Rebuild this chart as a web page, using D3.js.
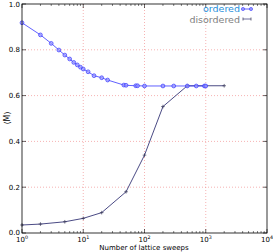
<!DOCTYPE html>
<html><head><meta charset="utf-8">
<script src="https://cdn.jsdelivr.net/npm/d3@7/dist/d3.min.js"></script>
<style>body{margin:0;background:#fff}svg{display:block}text{font-family:"DejaVu Sans",sans-serif}</style>
</head><body><svg id="c" width="273" height="252"></svg>
<script>
const orderedX = [1,2,3,4,5,6,7,8,9,10,12,15,20,25,46,50,72,77,100,200,300,500,700,950,1000];
const orderedY = [0.918,0.865,0.828,0.799,0.777,0.760,0.745,0.734,0.724,0.716,0.704,0.687,0.678,0.668,0.646,0.645,0.643,0.643,0.642,0.642,0.642,0.642,0.642,0.642,0.642];
const disorderedX = [1,2,5,10,20,50,100,200,500,2000];
const disorderedY = [0.035,0.039,0.049,0.064,0.089,0.180,0.340,0.552,0.643,0.643];
const xTicks = [1,10,100,1000,10000];
const xTickExp = ["0","1","2","3","4"];
const yTicks = [0,0.2,0.4,0.6,0.8,1.0];
const yTickLabels = ["0.0","0.2","0.4","0.6","0.8","1.0"];
const legendLabels = ["ordered","disordered"];

const svg = d3.select("#c");
const L=22,R=267,T=4,B=233;
const x = d3.scaleLog().domain([1,10000]).range([L,R]);
const y = d3.scaleLinear().domain([0,1]).range([B,T]);

// grid
const g = svg.append("g");
xTicks.slice(1,-1).forEach(v=>g.append("line").attr("x1",x(v)).attr("x2",x(v)).attr("y1",T).attr("y2",B)
  .attr("stroke","#f08080").attr("stroke-width",0.6).attr("stroke-dasharray","1,2"));
yTicks.slice(1,-1).forEach(v=>g.append("line").attr("y1",y(v)).attr("y2",y(v)).attr("x1",L).attr("x2",R)
  .attr("stroke","#f08080").attr("stroke-width",0.6).attr("stroke-dasharray","1,2"));

// minor ticks
const minor=[];
for(let d=1;d<10000;d*=10) for(let k=2;k<10;k++) minor.push(d*k);
minor.forEach(v=>{
  svg.append("line").attr("x1",x(v)).attr("x2",x(v)).attr("y1",B).attr("y2",B-2).attr("stroke","#000").attr("stroke-width",0.5);
  svg.append("line").attr("x1",x(v)).attr("x2",x(v)).attr("y1",T).attr("y2",T+2).attr("stroke","#000").attr("stroke-width",0.5);
});
xTicks.forEach((v,i)=>{
  svg.append("line").attr("x1",x(v)).attr("x2",x(v)).attr("y1",B).attr("y2",B-4).attr("stroke","#000").attr("stroke-width",0.6);
  svg.append("line").attr("x1",x(v)).attr("x2",x(v)).attr("y1",T).attr("y2",T+4).attr("stroke","#000").attr("stroke-width",0.6);
  const t=svg.append("text").attr("x",x(v)).attr("y",B+9).attr("text-anchor","middle").attr("font-size",7);
  t.append("tspan").text("10");
  t.append("tspan").attr("dy",-3).attr("font-size",4.8).text(xTickExp[i]);
});
yTicks.forEach((v,i)=>{
  svg.append("line").attr("x1",L).attr("x2",L+4).attr("y1",y(v)).attr("y2",y(v)).attr("stroke","#000").attr("stroke-width",0.6);
  svg.append("line").attr("x1",R).attr("x2",R-4).attr("y1",y(v)).attr("y2",y(v)).attr("stroke","#000").attr("stroke-width",0.6);
  svg.append("text").attr("x",L-2).attr("y",y(v)+(i===0?1.5:2.5)).attr("text-anchor","end").attr("font-size",7).text(yTickLabels[i]);
});

const line = d3.line().x(d=>x(d[0])).y(d=>y(d[1]));
// disordered
const dd = disorderedX.map((v,i)=>[v,disorderedY[i]]);
svg.append("path").attr("d",line(dd)).attr("fill","none").attr("stroke","#4b4b85").attr("stroke-width",1);
dd.forEach(d=>{
  svg.append("line").attr("x1",x(d[0])-1.8).attr("x2",x(d[0])+1.8).attr("y1",y(d[1])).attr("y2",y(d[1])).attr("stroke","#333355").attr("stroke-width",0.7);
  svg.append("line").attr("x1",x(d[0])).attr("x2",x(d[0])).attr("y1",y(d[1])-1.8).attr("y2",y(d[1])+1.8).attr("stroke","#333355").attr("stroke-width",0.7);
});
// ordered
const od = orderedX.map((v,i)=>[v,orderedY[i]]);
svg.append("path").attr("d",line(od)).attr("fill","none").attr("stroke","#3a3aff").attr("stroke-width",1).attr("stroke-opacity",0.8);
svg.selectAll("circle.o").data(od).enter().append("circle").attr("class","o")
  .attr("cx",d=>x(d[0])).attr("cy",d=>y(d[1])).attr("r",1.9)
  .attr("fill","#9a9aff").attr("fill-opacity",0.7).attr("stroke","#3a3aff").attr("stroke-width",0.7);

// frame
svg.append("rect").attr("x",L).attr("y",T).attr("width",R-L).attr("height",B-T).attr("fill","none").attr("stroke","#000").attr("stroke-width",0.8);

// labels
svg.append("text").attr("x",144).attr("y",249.5).attr("text-anchor","middle").attr("font-size",7).text("Number of lattice sweeps");
svg.append("text").attr("transform","translate(10,118) rotate(-90)").attr("text-anchor","middle").attr("font-size",8).text("⟨M⟩");

// legend
svg.append("text").attr("x",240).attr("y",11.5).attr("text-anchor","end").attr("font-size",9.5).attr("fill","#1f8fdc").text(legendLabels[0]);
svg.append("text").attr("x",240).attr("y",22.5).attr("text-anchor","end").attr("font-size",9.5).attr("fill","#808080").text(legendLabels[1]);
svg.append("line").attr("x1",243).attr("x2",251).attr("y1",9).attr("y2",9).attr("stroke","#3a3aff").attr("stroke-width",0.8);
[243,251].forEach(cx=>svg.append("circle").attr("cx",cx).attr("cy",9).attr("r",1.6).attr("fill","#9a9aff").attr("stroke","#3a3aff").attr("stroke-width",0.6));
svg.append("line").attr("x1",243).attr("x2",251).attr("y1",19).attr("y2",19).attr("stroke","#4b4b85").attr("stroke-width",0.8);
[243,251].forEach(cx=>svg.append("line").attr("x1",cx).attr("x2",cx).attr("y1",17.5).attr("y2",20.5).attr("stroke","#333355").attr("stroke-width",0.7));
</script></body></html>
